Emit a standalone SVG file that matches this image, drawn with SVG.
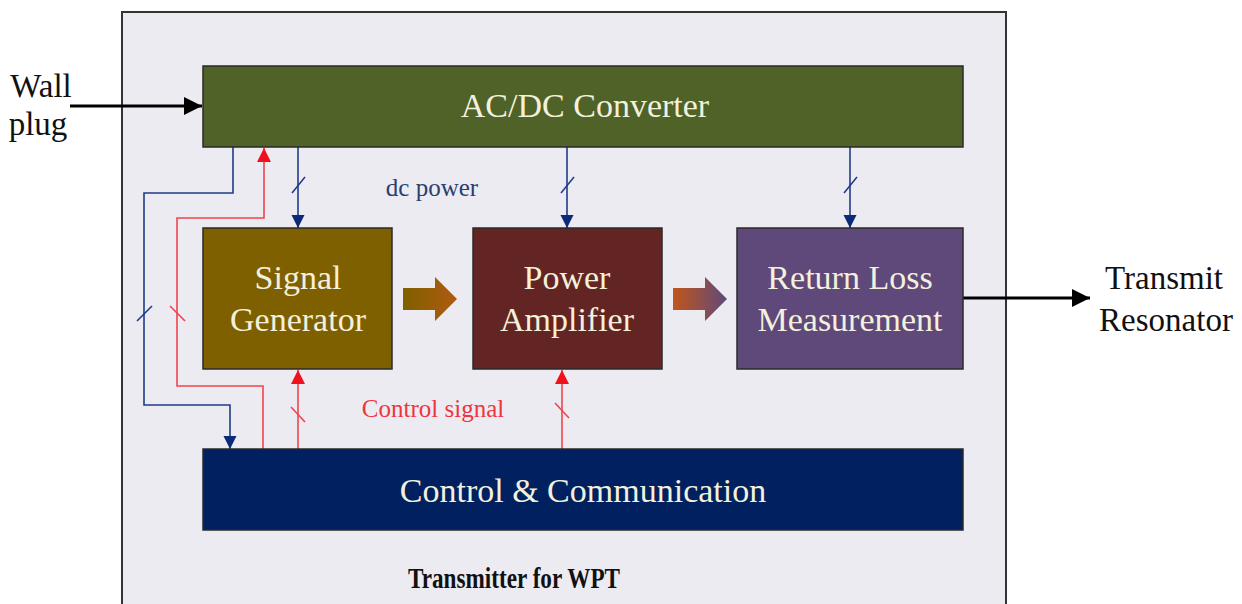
<svg xmlns="http://www.w3.org/2000/svg" width="1242" height="604" viewBox="0 0 1242 604">
  <style>
    .box { stroke: #2a2a2a; stroke-width: 1.5; }
    .btxt { font-family: "Liberation Serif", "Times New Roman", serif; font-size: 34px; fill: #f3f0dc; text-anchor: middle; }
    .otxt { font-family: "Liberation Serif", "Times New Roman", serif; font-size: 33px; fill: #111; text-anchor: middle; }
    .small { font-family: "Liberation Serif", "Times New Roman", serif; font-size: 25px; text-anchor: middle; }
    .dc { stroke: #1f3c88; stroke-width: 1.6; fill: none; }
    .ctl { stroke: #f0444c; stroke-width: 1.6; fill: none; }
    .blk { stroke: #000; stroke-width: 3; fill: none; }
  </style>
  <defs>
    <marker id="hBlue" viewBox="0 0 10 10" refX="10" refY="5" markerWidth="13" markerHeight="15" markerUnits="userSpaceOnUse" orient="auto">
      <path d="M0,0 L10,5 L0,10 Z" fill="#0d2a78"/>
    </marker>
    <marker id="hRed" viewBox="0 0 10 10" refX="10" refY="5" markerWidth="14" markerHeight="15" markerUnits="userSpaceOnUse" orient="auto">
      <path d="M0,0 L10,5 L0,10 Z" fill="#f0101e"/>
    </marker>
    <marker id="hBlack" viewBox="0 0 10 10" refX="10" refY="5" markerWidth="24" markerHeight="18" markerUnits="userSpaceOnUse" orient="auto">
      <path d="M0,0 L10,5 L0,10 Z" fill="#000"/>
    </marker>
    <linearGradient id="g1" x1="0" y1="0" x2="1" y2="0">
      <stop offset="0" stop-color="#7f6000"/>
      <stop offset="1" stop-color="#b05a10"/>
    </linearGradient>
    <linearGradient id="g2" x1="0" y1="0" x2="1" y2="0">
      <stop offset="0" stop-color="#c0561a"/>
      <stop offset="1" stop-color="#5f497a"/>
    </linearGradient>
  </defs>

  <rect width="1242" height="604" fill="#ffffff"/>
  <!-- transmitter enclosure -->
  <rect x="122" y="12" width="884" height="594" fill="#edebf2" stroke="#333" stroke-width="2"/>

  <!-- connectors -->
  <g id="connectors">
    <!-- mains in / resonator out -->
    <line class="blk" x1="70" y1="106" x2="202" y2="106" marker-end="url(#hBlack)"/>
    <line class="blk" x1="963" y1="298" x2="1090" y2="298" marker-end="url(#hBlack)"/>

    <!-- dc power rails -->
    <line class="dc" x1="298" y1="147" x2="298" y2="228" marker-end="url(#hBlue)"/>
    <line class="dc" x1="292" y1="193" x2="305" y2="177"/>
    <line class="dc" x1="567" y1="147" x2="567" y2="228" marker-end="url(#hBlue)"/>
    <line class="dc" x1="561" y1="193" x2="574" y2="177"/>
    <line class="dc" x1="850" y1="147" x2="850" y2="228" marker-end="url(#hBlue)"/>
    <line class="dc" x1="844" y1="193" x2="857" y2="177"/>
    <polyline class="dc" points="233,147 233,193 144,193 144,405 230,405 230,449" marker-end="url(#hBlue)"/>
    <line class="dc" x1="137" y1="321" x2="152" y2="306"/>

    <!-- control signals -->
    <polyline class="ctl" points="263,449 263,386 177,386 177,218 264,218 264,148" marker-end="url(#hRed)"/>
    <line class="ctl" x1="170" y1="306" x2="185" y2="321"/>
    <line class="ctl" x1="298" y1="449" x2="298" y2="370" marker-end="url(#hRed)"/>
    <line class="ctl" x1="291" y1="407" x2="305" y2="422"/>
    <line class="ctl" x1="562" y1="449" x2="562" y2="370" marker-end="url(#hRed)"/>
    <line class="ctl" x1="555" y1="403" x2="569" y2="418"/>

    <!-- RF path block arrows -->
    <path d="M403,288 H435 V277 L457,299 L435,321 V310 H403 Z" fill="url(#g1)"/>
    <path d="M673,288 H705 V277 L727,299 L705,321 V310 H673 Z" fill="url(#g2)"/>
  </g>

  <g id="acdc">
    <rect class="box" x="203" y="66" width="760" height="81" fill="#4f6228"/>
    <text class="btxt" x="585" y="117">AC/DC Converter</text>
  </g>
  <g id="siggen">
    <rect class="box" x="203" y="228" width="189" height="141" fill="#7f6000"/>
    <text class="btxt" x="298" y="289">Signal</text>
    <text class="btxt" x="298" y="331">Generator</text>
  </g>
  <g id="pa">
    <rect class="box" x="473" y="228" width="189" height="141" fill="#632523"/>
    <text class="btxt" x="567" y="289" fill="#f6dcd6">Power</text>
    <text class="btxt" x="567" y="331" fill="#f6dcd6">Amplifier</text>
  </g>
  <g id="rlm">
    <rect class="box" x="737" y="228" width="226" height="141" fill="#5f497a"/>
    <text class="btxt" x="850" y="289" fill="#efe9f5">Return Loss</text>
    <text class="btxt" x="850" y="331" fill="#efe9f5">Measurement</text>
  </g>
  <g id="ctrl">
    <rect class="box" x="203" y="449" width="760" height="81" fill="#002060"/>
    <text class="btxt" x="583" y="502" fill="#e6ebf5">Control &amp; Communication</text>
  </g>

  <!-- labels -->
  <text class="small" x="432" y="196" fill="#2a3f70">dc power</text>
  <text class="small" x="433" y="417" fill="#ee3540">Control signal</text>
  <text class="otxt" x="41" y="97">Wall</text>
  <text class="otxt" x="38" y="135">plug</text>
  <text class="otxt" x="1164" y="289">Transmit</text>
  <text class="otxt" x="1166" y="331">Resonator</text>
  <text x="514" y="588" font-family="Liberation Serif, serif" font-size="29" font-weight="bold" fill="#111" text-anchor="middle" textLength="212" lengthAdjust="spacingAndGlyphs">Transmitter for WPT</text>
</svg>
